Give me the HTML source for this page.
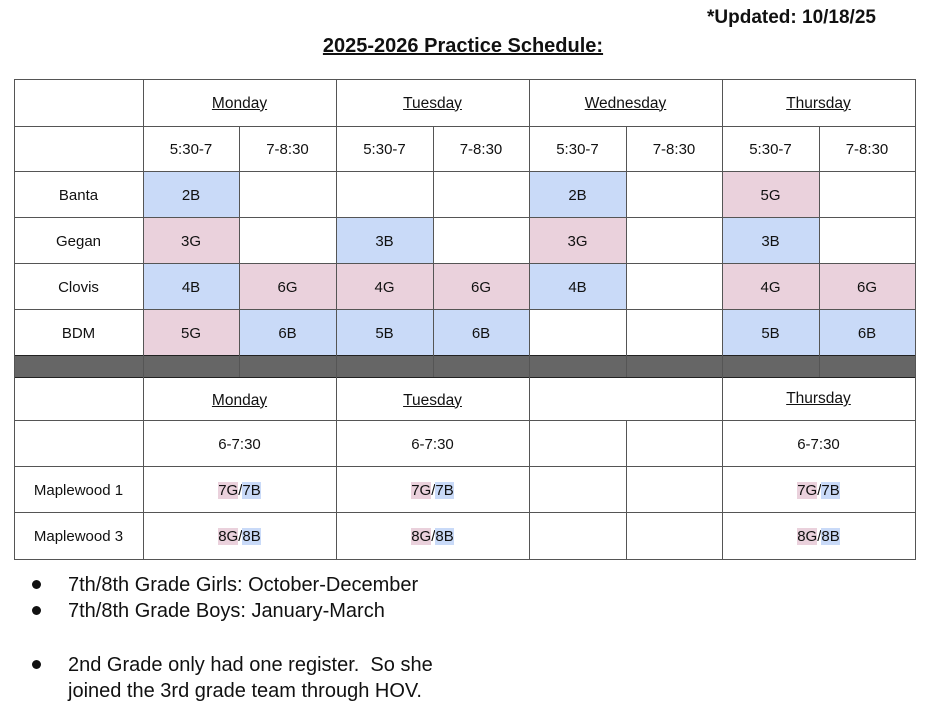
<!DOCTYPE html><html><head><style>
body{margin:0;width:926px;height:706px;background:#fff;position:relative;overflow:hidden;font-family:"Liberation Sans",sans-serif;color:#111}
.b{position:absolute}
.h{position:absolute;height:1px;background:#555;left:14px;width:901px}
.v{position:absolute;width:1px;background:#555}
.t{position:absolute;display:flex;align-items:center;justify-content:center;font-size:15px;padding-top:2px;box-sizing:border-box}
.u{text-decoration:underline;font-size:15.5px}
.p{background:#ead1dc}.q{background:#c9daf8}
.li{position:absolute;left:68px;font-size:20px}
.dot{position:absolute;left:32px;width:9px;height:9px;border-radius:50%;background:#111}
</style></head><body>
<div class="b" style="left:707px;top:7px;font-size:19px;font-weight:bold">*Updated: 10/18/25</div>
<div class="b" style="left:0;width:926px;top:35px;text-align:center;font-size:20px;font-weight:bold;text-decoration:underline">2025-2026 Practice Schedule:</div>

<div class="b q" style="left:144px;top:172px;width:95px;height:45px"></div>
<div class="b q" style="left:530px;top:172px;width:96px;height:45px"></div>
<div class="b p" style="left:723px;top:172px;width:96px;height:45px"></div>
<div class="b p" style="left:144px;top:218px;width:95px;height:45px"></div>
<div class="b q" style="left:337px;top:218px;width:96px;height:45px"></div>
<div class="b p" style="left:530px;top:218px;width:96px;height:45px"></div>
<div class="b q" style="left:723px;top:218px;width:96px;height:45px"></div>
<div class="b q" style="left:144px;top:264px;width:95px;height:45px"></div>
<div class="b p" style="left:240px;top:264px;width:675px;height:45px"></div>
<div class="b q" style="left:530px;top:264px;width:96px;height:45px"></div>
<div class="b" style="left:627px;top:264px;width:95px;height:45px;background:#fff"></div>
<div class="b p" style="left:144px;top:310px;width:95px;height:45px"></div>
<div class="b q" style="left:240px;top:310px;width:289px;height:45px"></div>
<div class="b q" style="left:723px;top:310px;width:192px;height:45px"></div>
<div class="b" style="left:14px;top:355px;width:901px;height:22px;background:#666"></div>

<div class="h" style="top:79px"></div><div class="h" style="top:126px"></div><div class="h" style="top:171px"></div>
<div class="h" style="top:217px"></div><div class="h" style="top:263px"></div><div class="h" style="top:309px"></div>
<div class="h" style="top:355px;background:#222"></div><div class="h" style="top:377px;background:#222"></div><div class="h" style="top:420px"></div>
<div class="h" style="top:466px"></div><div class="h" style="top:512px"></div><div class="h" style="top:559px"></div>
<div class="v" style="left:14px;top:79px;height:481px"></div>
<div class="v" style="left:143px;top:79px;height:481px"></div>
<div class="v" style="left:336px;top:79px;height:481px"></div>
<div class="v" style="left:529px;top:79px;height:481px"></div>
<div class="v" style="left:722px;top:79px;height:481px"></div>
<div class="v" style="left:915px;top:79px;height:481px"></div>
<div class="v" style="left:239px;top:126px;height:251px"></div>
<div class="v" style="left:433px;top:126px;height:251px"></div>
<div class="v" style="left:626px;top:126px;height:251px"></div>
<div class="v" style="left:819px;top:126px;height:251px"></div>
<div class="v" style="left:626px;top:420px;height:139px"></div>

<div class="t u" style="left:143px;top:79px;width:193px;height:47px">Monday</div>
<div class="t u" style="left:336px;top:79px;width:193px;height:47px">Tuesday</div>
<div class="t u" style="left:529px;top:79px;width:193px;height:47px">Wednesday</div>
<div class="t u" style="left:722px;top:79px;width:193px;height:47px">Thursday</div>
<div class="t" style="left:143px;top:126px;width:96px;height:45px">5:30-7</div>
<div class="t" style="left:239px;top:126px;width:97px;height:45px">7-8:30</div>
<div class="t" style="left:336px;top:126px;width:97px;height:45px">5:30-7</div>
<div class="t" style="left:433px;top:126px;width:96px;height:45px">7-8:30</div>
<div class="t" style="left:529px;top:126px;width:97px;height:45px">5:30-7</div>
<div class="t" style="left:626px;top:126px;width:96px;height:45px">7-8:30</div>
<div class="t" style="left:722px;top:126px;width:97px;height:45px">5:30-7</div>
<div class="t" style="left:819px;top:126px;width:96px;height:45px">7-8:30</div>

<div class="t" style="left:14px;top:171px;width:129px;height:46px">Banta</div>
<div class="t" style="left:14px;top:217px;width:129px;height:46px">Gegan</div>
<div class="t" style="left:14px;top:263px;width:129px;height:46px">Clovis</div>
<div class="t" style="left:14px;top:309px;width:129px;height:46px">BDM</div>

<div class="t" style="left:143px;top:171px;width:96px;height:46px">2B</div>
<div class="t" style="left:529px;top:171px;width:97px;height:46px">2B</div>
<div class="t" style="left:722px;top:171px;width:97px;height:46px">5G</div>
<div class="t" style="left:143px;top:217px;width:96px;height:46px">3G</div>
<div class="t" style="left:336px;top:217px;width:97px;height:46px">3B</div>
<div class="t" style="left:529px;top:217px;width:97px;height:46px">3G</div>
<div class="t" style="left:722px;top:217px;width:97px;height:46px">3B</div>
<div class="t" style="left:143px;top:263px;width:96px;height:46px">4B</div>
<div class="t" style="left:239px;top:263px;width:97px;height:46px">6G</div>
<div class="t" style="left:336px;top:263px;width:97px;height:46px">4G</div>
<div class="t" style="left:433px;top:263px;width:96px;height:46px">6G</div>
<div class="t" style="left:529px;top:263px;width:97px;height:46px">4B</div>
<div class="t" style="left:722px;top:263px;width:97px;height:46px">4G</div>
<div class="t" style="left:819px;top:263px;width:96px;height:46px">6G</div>
<div class="t" style="left:143px;top:309px;width:96px;height:46px">5G</div>
<div class="t" style="left:239px;top:309px;width:97px;height:46px">6B</div>
<div class="t" style="left:336px;top:309px;width:97px;height:46px">5B</div>
<div class="t" style="left:433px;top:309px;width:96px;height:46px">6B</div>
<div class="t" style="left:722px;top:309px;width:97px;height:46px">5B</div>
<div class="t" style="left:819px;top:309px;width:96px;height:46px">6B</div>

<div class="t u" style="left:143px;top:377px;width:193px;height:45px">Monday</div>
<div class="t u" style="left:336px;top:377px;width:193px;height:45px">Tuesday</div>
<div class="t u" style="left:722px;top:377px;width:193px;height:42px">Thursday</div>
<div class="t" style="left:143px;top:420px;width:193px;height:46px">6-7:30</div>
<div class="t" style="left:336px;top:420px;width:193px;height:46px">6-7:30</div>
<div class="t" style="left:722px;top:420px;width:193px;height:46px">6-7:30</div>
<div class="t" style="left:14px;top:466px;width:129px;height:46px">Maplewood 1</div>
<div class="t" style="left:14px;top:512px;width:129px;height:47px">Maplewood 3</div>
<div class="t" style="left:143px;top:466px;width:193px;height:46px"><span class="p">7G</span>/<span class="q">7B</span></div>
<div class="t" style="left:336px;top:466px;width:193px;height:46px"><span class="p">7G</span>/<span class="q">7B</span></div>
<div class="t" style="left:722px;top:466px;width:193px;height:46px"><span class="p">7G</span>/<span class="q">7B</span></div>
<div class="t" style="left:143px;top:512px;width:193px;height:47px"><span class="p">8G</span>/<span class="q">8B</span></div>
<div class="t" style="left:336px;top:512px;width:193px;height:47px"><span class="p">8G</span>/<span class="q">8B</span></div>
<div class="t" style="left:722px;top:512px;width:193px;height:47px"><span class="p">8G</span>/<span class="q">8B</span></div>

<div class="dot" style="top:580px"></div><div class="li" style="top:574px">7th/8th Grade Girls: October-December</div>
<div class="dot" style="top:606px"></div><div class="li" style="top:600px">7th/8th Grade Boys: January-March</div>
<div class="dot" style="top:660px"></div><div class="li" style="top:654px">2nd Grade only had one register.&nbsp; So she</div>
<div class="li" style="top:680px">joined the 3rd grade team through HOV.</div>
</body></html>
